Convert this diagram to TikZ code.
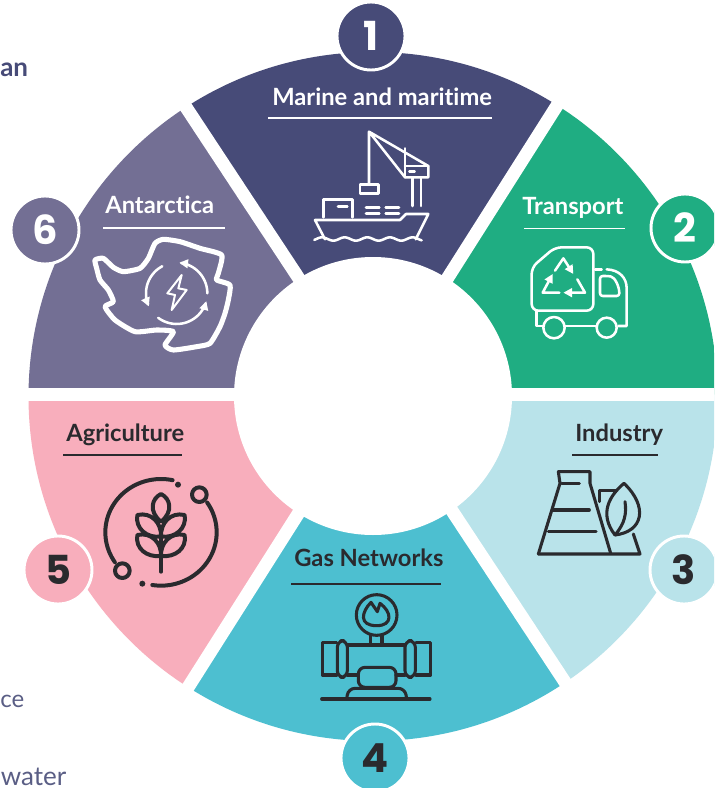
\documentclass[tikz,border=0pt]{standalone}
\usepackage{fontspec}
\usetikzlibrary{arrows.meta}
\setmainfont{Lato}[Ligatures=NoCommon]
\newfontfamily\numfont{Poppins}
\definecolor{navy}{HTML}{474B78}
\definecolor{green}{HTML}{1FAD82}
\definecolor{pale}{HTML}{B9E3EA}
\definecolor{teal}{HTML}{4DBFD0}
\definecolor{pink}{HTML}{F8AEBC}
\definecolor{plum}{HTML}{736F94}
\definecolor{ink}{HTML}{2A2A2E}
\definecolor{body}{HTML}{5A5E85}
\tikzset{
  badge/.style={circle,draw=white,line width=2.2pt,minimum size=51pt,inner sep=0pt,text=#1,font=\numfont\bfseries\fontsize{30}{32}\selectfont},
  title/.style={anchor=base west,inner sep=0pt,font=\bfseries\fontsize{17.8}{20}\selectfont,text=#1},
  rule/.style={draw=#1,line width=1.2pt},
  icon/.style={draw=#1,line width=1.9pt,line cap=round,line join=round},
  darkicon/.style={draw=ink,line width=2.3pt,line cap=round,line join=round},
  wheaticon/.style={draw=ink,line width=3pt,line cap=round,line join=round},
  zoomed/.style={x=0.25pt,y=-0.25pt},
  gap/.style={draw=white,line width=9.75pt},
  tip/.style={-{Triangle[length=6.5pt,width=6.5pt]}},
  frag/.style={anchor=base west,inner sep=0pt,text=#1},
}
\begin{document}
\begin{tikzpicture}[x=0.75pt,y=-0.75pt]
\path[use as bounding box,fill=white] (0,0) rectangle (714,788);
\clip (0,0) rectangle (714,788);
% wheel
\coordinate (c) at (374.5,394.5);
\begin{scope}
\clip (373,396.5) circle (344.5);
\fill[navy] (c) -- (98.2,-26) -- (640.4,-26) -- cycle;
\fill[green] (c) -- (640.4,-26) -- (873,-26) -- (873,394.5) -- cycle;
\fill[pale] (c) -- (873,394.5) -- (873,816) -- (653.2,816) -- cycle;
\fill[teal] (c) -- (653.2,816) -- (106.5,816) -- cycle;
\fill[pink] (c) -- (106.5,816) -- (-127,816) -- (-127,394.5) -- cycle;
\fill[plum] (c) -- (-127,394.5) -- (-127,-26) -- (98.2,-26) -- cycle;
\end{scope}
\draw[gap] (-127,394.5) -- (873,394.5);
\draw[gap] (98.2,-26) -- (653.2,816);
\draw[gap] (640.4,-26) -- (106.5,816);
\fill[white] (373,396) circle (139);
% side text fragments
\node[frag=navy,font=\bfseries\fontsize{19.5}{22}\selectfont] (fragA) at (0,77) {an};
\node[frag=body,font=\fontsize{18}{22}\selectfont] (fragB) at (0,707) {ce};
\node[frag=body,font=\fontsize{19.5}{22}\selectfont] (fragC) at (0.5,785) {water};
% badges
\node[badge=white,fill=navy] (b1) at (371,36) {1};
\node[badge=white,fill=green] (b2) at (685,228) {2};
\node[badge=ink,fill=pale] (b3) at (684,570) {3};
\node[badge=ink,fill=teal] (b4) at (375,758) {4};
\node[badge=ink,fill=pink] (b5) at (58,570) {5};
\node[badge=white,fill=plum] (b6) at (45,230) {6};
% titles
\node[title=white] (t1) at (272,105.5) {Marine and maritime};
\draw[rule=white] (268,118) -- (492,118);
\node[title=white] (t2) at (522,214) {Transport};
\draw[rule=white] (524,228.5) -- (625,228.5);
\node[title=ink] (t3) at (575,441) {Industry};
\draw[rule=ink] (572,455) -- (658,455);
\node[title=ink] (t4) at (294,566) {Gas Networks};
\draw[rule=ink] (291,584) -- (441,584);
\node[title=ink] (t5) at (66,441) {Agriculture};
\draw[rule=ink] (63,455) -- (182,455);
\node[title=white] (t6) at (105,213) {Antarctica};
\draw[rule=white] (103,228) -- (225,228);
% ship
\begin{scope}[shift={(270,80)},zoomed]
\draw[icon=white] (297,312) -- (297,155) -- (475,258) -- (475,292) -- (405,292) -- (297,155);
\draw[icon=white] (405,205) -- (405,292) (405,258) -- (475,258) (418,274) -- (434,274);
\draw[icon=white] (427,292) -- (427,378) (453,292) -- (453,378);
\draw[icon=white] (270,314) rectangle (326,340);
\draw[icon=white] (160,412) -- (160,358) -- (248,358) -- (248,412) (204,380) -- (232,380);
\draw[icon=white] (288,382) -- (328,382) (347,382) -- (387,382) (288,400) -- (328,400) (347,400) -- (387,400);
\draw[icon=white] (165,478) -- (135,420) -- (390,420) -- (408,402) -- (475,402) -- (437,478);
\draw[icon=white] plot[domain=133:455,samples=70,smooth] (\x,{477+5*cos((\x-190)*5.3)});
\end{scope}
% truck
\begin{scope}[shift={(500,190)},zoomed]
\draw[icon=white,rounded corners=5pt] (280,362) -- (95,362) -- (95,232) -- (165,172) -- (280,172) -- cycle;
\draw[icon=white] (285,238) -- (305,238);
\draw[icon=white] (320,238) .. controls (360,240) and (380,265) .. (380,295) -- (380,408) -- (355,408);
\draw[icon=white,rounded corners=2pt] (300,258) -- (325,258) .. controls (345,262) and (358,290) .. (358,318) -- (300,318) -- cycle;
\draw[icon=white] (110,364) -- (110,408) -- (128,408) (195,408) -- (288,408);
\draw[icon=white] (162,413) circle (32) (320,413) circle (30);
\draw[icon=white,tip] (165,242) -- (190,205) -- (220,252);
\draw[icon=white,tip] (232,268) -- (255,308) -- (190,308);
\draw[icon=white,tip] (178,308) -- (128,308) -- (158,252);
\end{scope}
% industry
\begin{scope}[shift={(520,420)},zoomed]
\draw[darkicon] (55,402) -- (360,402) -- (340,342);
\draw[darkicon] (55,402) -- (120,190) -- (115,155) -- (210,155) -- (210,190) -- (272,400);
\draw[darkicon] (125,190) -- (178,190) (100,270) -- (208,270) (85,335) -- (228,335);
\draw[darkicon] (238,245) -- (238,212) -- (290,212);
\draw[darkicon] (285,345) .. controls (370,335) and (385,260) .. (312,190) .. controls (270,225) and (235,280) .. (285,345);
\draw[darkicon] (285,345) .. controls (315,310) and (320,280) .. (315,245);
\end{scope}
% gas networks
\begin{scope}[shift={(290,540)},zoomed]
\draw[darkicon] (260,225) circle (61);
\draw[darkicon] (243,187) .. controls (215,215) and (205,257) .. (260,257) .. controls (310,257) and (305,215) .. (270,190) -- (262,215) -- cycle;
\draw[darkicon] (242,284) -- (242,312) (276,284) -- (276,312);
\draw[darkicon] (140,308) -- (97,308) -- (97,405) -- (140,405);
\draw[darkicon,rounded corners=5pt] (142,302) rectangle (172,412);
\draw[darkicon,rounded corners=5pt] (345,302) rectangle (376,412);
\draw[darkicon] (378,308) -- (422,308) -- (422,405) -- (378,405);
\draw[darkicon] (172,315) -- (345,315) (172,405) -- (205,405) (318,405) -- (345,405);
\draw[darkicon,rounded corners=5pt] (205,442) -- (205,382) -- (318,382) -- (318,442) -- cycle;
\draw[darkicon,rounded corners=5pt] (170,477) -- (175,445) -- (345,445) -- (350,477);
\draw[darkicon] (95,477) -- (420,477);
\end{scope}
% wheat
\begin{scope}[shift={(60,420)},zoomed]
\draw[wheaticon] plot[domain=78:214,samples=40,smooth] ({303+167*cos(\x)},{337-160*sin(\x)});
\draw[wheaticon] plot[domain=34:-99,samples=40,smooth] ({303+167*cos(\x)},{337-160*sin(\x)});
\draw[wheaticon] (187,452) circle (22) (418,224) circle (22);
\fill[ink] (354,194) circle (9) (247,491) circle (9);
\draw[wheaticon] (303,350) -- (303,455);
\draw[wheaticon] (303,222) .. controls (275,235) and (265,275) .. (303,305) .. controls (341,275) and (331,235) .. cycle;
\draw[wheaticon] (232,285) .. controls (275,275) and (305,310) .. (303,350) .. controls (260,355) and (225,325) .. cycle;
\draw[wheaticon] (374,285) .. controls (331,275) and (301,310) .. (303,350) .. controls (346,355) and (381,325) .. cycle;
\draw[wheaticon] (232,345) .. controls (275,335) and (305,370) .. (303,408) .. controls (260,413) and (225,385) .. cycle;
\draw[wheaticon] (374,345) .. controls (331,335) and (301,370) .. (303,408) .. controls (346,413) and (381,385) .. cycle;
\end{scope}
% antarctica
\begin{scope}[shift={(0,180)},zoomed]
\draw[icon=white,line width=3.8pt] plot[smooth cycle,tension=0.35] coordinates {(285,240) (310,235) (340,262) (370,275) (420,265) (445,235) (465,190) (490,178) (540,185) (600,205) (665,225) (655,280) (650,300) (690,315) (685,360) (675,400) (660,440) (630,490) (590,500) (520,510) (495,495) (520,455) (470,450) (405,455) (345,420) (315,380) (340,365) (325,330) (300,300) (290,265)};
\draw[icon=white,tip] plot[domain=0:85,samples=20,smooth] ({530+92*cos(\x)},{340-92*sin(\x)});
\draw[icon=white,tip] plot[domain=233:345,samples=20,smooth] ({530+92*cos(\x)},{340-92*sin(\x)});
\draw[icon=white,tip] plot[domain=118:205,samples=20,smooth] ({530+92*cos(\x)},{340-92*sin(\x)});
\draw[icon=white,line width=1.5pt] (545,285) -- (502,340) -- (525,345) -- (515,390) -- (560,330) -- (535,325) -- cycle;
\end{scope}
\end{tikzpicture}
\end{document}
